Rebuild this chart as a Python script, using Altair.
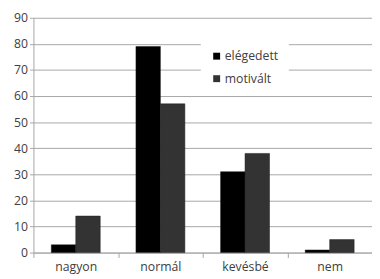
import altair as alt
import pandas as pd

categories = ["nagyon", "normál", "kevésbé", "nem"]
series = ["elégedett", "motivált"]
elegedett = [3, 79, 31, 1]
motivalt = [14, 57, 38, 5]

rows = []
for i, c in enumerate(categories):
    rows.append({"cat": c, "series": series[0], "value": elegedett[i]})
    rows.append({"cat": c, "series": series[1], "value": motivalt[i]})
df = pd.DataFrame(rows)

FONT = "Open Sans"
GRAY = "#a6a6a6"
TXT = "#404040"

chart = alt.Chart(df).mark_bar(stroke="#1a1a1a", strokeWidth=0.5).encode(
    x=alt.X("cat:N", sort=categories, title=None,
            scale=alt.Scale(paddingInner=0, paddingOuter=0),
            axis=alt.Axis(labelAngle=0, tickBand="extent", domainColor=GRAY, tickColor=GRAY,
                          tickSize=5, labelFontSize=12.5, labelColor=TXT, labelFont=FONT,
                          labelPadding=3, grid=False)),
    xOffset=alt.XOffset("series:N", sort=series,
                        scale=alt.Scale(paddingInner=0, paddingOuter=0.73)),
    y=alt.Y("value:Q", title=None,
            scale=alt.Scale(domain=[0, 90]),
            axis=alt.Axis(values=list(range(0, 91, 10)), gridColor=GRAY, domainColor=GRAY,
                          tickColor=GRAY, tickSize=4, labelFontSize=12.5, labelColor=TXT,
                          labelFont=FONT, labelPadding=2)),
    color=alt.Color("series:N", sort=series,
                    scale=alt.Scale(domain=series, range=["#000000", "#333333"]),
                    legend=alt.Legend(title=None, orient="none", legendX=171, legendY=23,
                                      fillColor="white", symbolType="square", symbolSize=50,
                                      symbolStrokeWidth=0, labelFontSize=12.5, labelFont=FONT,
                                      labelColor=TXT, padding=10, rowPadding=10,
                                      labelOffset=2)),
).properties(
    width=346, height=240,
    autosize=alt.AutoSizeParams(type="none"),
    padding={"left": 26, "top": 7, "right": 0, "bottom": 24},
).configure_view(stroke=None)

chart.save("out.html", embed_options={"renderer": "svg", "actions": False})
